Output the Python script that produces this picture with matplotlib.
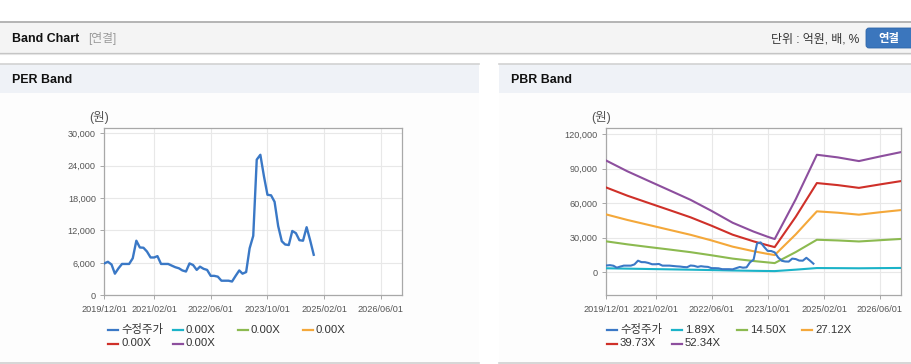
import matplotlib
matplotlib.use('Agg')
import matplotlib.pyplot as plt
import matplotlib.dates as mdates
from matplotlib.patches import Rectangle, FancyBboxPatch
from matplotlib.lines import Line2D
from matplotlib.transforms import IdentityTransform
import pandas as pd

FONT = ['Liberation Sans', 'Noto Sans CJK KR', 'DejaVu Sans']
plt.rcParams['font.family'] = FONT

# ---------------- data ----------------
price_dates = pd.date_range('2019-12-01', periods=60, freq='MS')
price = [5900, 6200, 5700, 4000, 5000, 5800, 5800, 5800, 6850, 10100,
         8850, 8800, 8100, 7000, 7000, 7250, 5800, 5800, 5800, 5500,
         5200, 5000, 4600, 4400, 5900, 5600, 4700, 5300, 4900, 4700,
         3600, 3600, 3450, 2700, 2700, 2700, 2550, 3600, 4600, 4000,
         4300, 8700, 11000, 25100, 26000, 22000, 18600, 18500, 17300, 12800,
         10000, 9400, 9300, 11900, 11500, 10200, 10100, 12600, 10200, 7500]

band_dates = pd.to_datetime(['2019-12-01', '2020-06-01', '2020-12-01', '2021-06-01',
                             '2021-12-01', '2022-06-01', '2022-12-01', '2023-06-01',
                             '2023-10-01', '2023-12-01', '2024-06-01', '2024-12-01',
                             '2025-06-01', '2025-12-01', '2026-06-01', '2026-12-01'])
band_189 = [3500, 3170, 2870, 2570, 2270, 1930, 1560, 1280, 1120, 1040, 2300, 3690, 3610, 3490, 3640, 3770]
band_1450 = [26900, 24300, 22000, 19800, 17500, 14800, 11900, 9800, 8600, 8000, 17600, 28300, 27700, 26800, 27900, 29000]
band_2712 = [50300, 45500, 41200, 36900, 32600, 27700, 22300, 18300, 16000, 15000, 33000, 53000, 51800, 50100, 52200, 54100]
band_3973 = [73700, 66600, 60300, 54100, 47800, 40500, 32700, 26900, 23500, 21900, 48300, 77600, 75800, 73400, 76400, 79300]
band_5234 = [97100, 87800, 79500, 71300, 63000, 53400, 43100, 35400, 30900, 28900, 63600, 102200, 99900, 96700, 100700, 104500]

per_labels = ['수정주가', '0.00X', '0.00X', '0.00X', '0.00X', '0.00X']
pbr_labels = ['수정주가', '1.89X', '14.50X', '27.12X', '39.73X', '52.34X']
colors = ['#3a78c6', '#1bb3c8', '#8cba50', '#f4a83a', '#cf3029', '#8d4f9e']

xtick_dates = pd.to_datetime(['2019-12-01', '2021-02-01', '2022-06-01',
                              '2023-10-01', '2025-02-01', '2026-06-01'])
xtick_labels = ['2019/12/01', '2021/02/01', '2022/06/01', '2023/10/01', '2025/02/01', '2026/06/01']
per_yticks = [0, 6000, 12000, 18000, 24000, 30000]
pbr_yticks = [0, 30000, 60000, 90000, 120000]

# ---------------- figure ----------------
W, H = 912, 364
fig = plt.figure(figsize=(W / 100, H / 100), dpi=100)
fig.patch.set_facecolor('white')
T = IdentityTransform()


def rect(x0, y0, x1, y1, fc, z=-10):
    fig.patches.append(Rectangle((x0, H - y1), x1 - x0, y1 - y0, transform=T,
                                 fc=fc, ec='none', zorder=z))


def hline(x0, x1, y, color, lw):
    fig.lines.append(Line2D([x0, x1], [H - y, H - y], transform=T, color=color,
                            lw=lw, zorder=-5))


def ptext(x, y, s, **kw):
    fig.text(x, H - y, s, transform=T, **kw)


# header band
rect(0, 22, W, 53, '#f4f4f4')
hline(0, W, 22, '#b4b4b4', 1.4)
hline(0, W, 53, '#c4c4c4', 0.9)
hline(0, W, 54.2, '#e4e4e4', 0.8)
ptext(12, 38.5, 'Band Chart', fontsize=8.9, fontweight='bold', color='#111111', va='center')
ptext(88.5, 38.5, '[연결]', fontsize=8.5, color='#9a9a9a', va='center')
ptext(859, 39, '단위 : 억원, 배, %', fontsize=8.6, color='#333333', va='center', ha='right')
fig.patches.append(FancyBboxPatch((866, H - 48), 52, 20, transform=T,
                                  boxstyle='round,pad=0,rounding_size=3',
                                  fc='#3b76bd', ec='#2f66a8', lw=0.6, zorder=2))
ptext(889, 38.5, '연결', fontsize=8.2, fontweight='bold', color='white', va='center', ha='center', zorder=3)

# panels
for (x0, x1, title) in [(0, 479, 'PER Band'), (499, W, 'PBR Band')]:
    rect(x0, 64, x1, 93, '#eff2f7')
    rect(x0, 93, x1, 362, '#fdfdfd')
    hline(x0, x1, 64.3, '#d2d2d2', 1.2)
    hline(x0, x1, 362.8, '#d0d0d0', 1.2)
    ptext(x0 + 12, 80, title, fontsize=8.9, fontweight='bold', color='#111111', va='center')

xmin = mdates.date2num(pd.Timestamp('2019-12-01'))
xmax = mdates.date2num(pd.Timestamp('2026-12-01'))


def make_ax(left, right, ylim, yticks):
    ax = fig.add_axes([left / W, 1 - 295.3 / H, (right - left) / W, (295.3 - 128.3) / H])
    ax.set_facecolor('white')
    ax.set_xlim(xmin, xmax)
    ax.set_ylim(*ylim)
    ax.set_yticks(yticks)
    ax.set_yticklabels([f'{v:,}' for v in yticks])
    ax.set_xticks(mdates.date2num(xtick_dates))
    ax.set_xticklabels(xtick_labels)
    ax.grid(True, color='#e8e8e8', lw=0.8)
    ax.set_axisbelow(True)
    for s in ax.spines.values():
        s.set_color('#a8a8a8')
        s.set_linewidth(0.9)
    ax.tick_params(axis='both', length=3, width=0.7, color='#a8a8a8',
                   labelsize=6.6, labelcolor='#555555')
    ax.tick_params(axis='y', pad=3)
    ax.tick_params(axis='x', pad=4)
    return ax


ax1 = make_ax(104.3, 402.3, (0, 30900), per_yticks)
ax1.plot(mdates.date2num(price_dates), price, color=colors[0], lw=1.7, zorder=5,
         solid_joinstyle='round')

ax2 = make_ax(606.3, 901, (-20000, 125200), pbr_yticks)
bx = mdates.date2num(band_dates)
for vals, c in zip([band_189, band_1450, band_2712, band_3973, band_5234], colors[1:]):
    ax2.plot(bx, vals, color=c, lw=1.5, zorder=4)
ax2.plot(mdates.date2num(price_dates), price, color=colors[0], lw=1.5, zorder=5,
         solid_joinstyle='round')

ptext(99, 118, '(원)', fontsize=9, color='#555555', va='center', ha='center')
ptext(601, 118, '(원)', fontsize=9, color='#555555', va='center', ha='center')


def legend(text_xs, labels):
    rows = [330, 343.5]
    for i, (lab, c) in enumerate(zip(labels, colors)):
        r, col = divmod(i, 4)
        tx = text_xs[col]
        y = rows[r]
        fig.lines.append(Line2D([tx - 13, tx - 3], [H - y, H - y], transform=T,
                                color=c, lw=1.6, zorder=3))
        ptext(tx, y, lab, fontsize=8.2, color='#333333', va='center', ha='left')


legend([121, 185.7, 250.7, 315.7], per_labels)
legend([620, 685, 750, 815], pbr_labels)

fig.savefig('out.png', dpi=100)
